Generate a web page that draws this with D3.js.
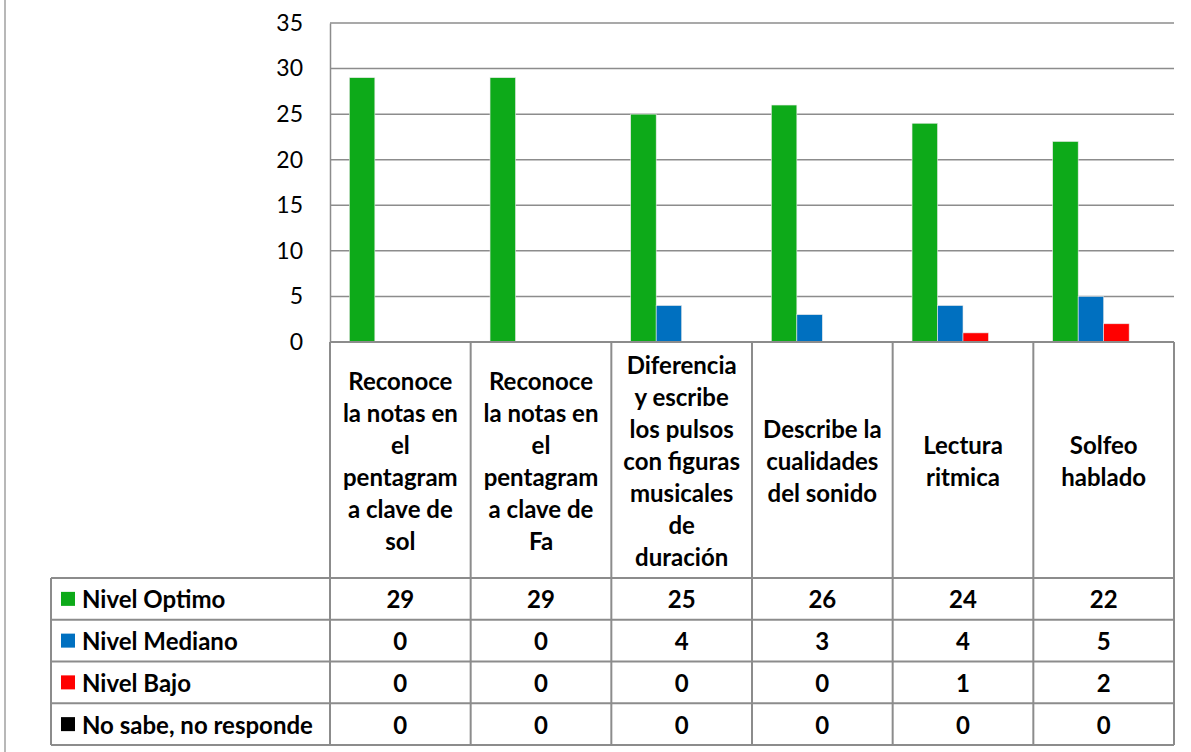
<!DOCTYPE html>
<html>
<head>
<meta charset="utf-8">
<script src="https://cdn.jsdelivr.net/npm/d3@7"></script>
<style>
  body { margin: 0; background: #fff; }
  svg { display: block; font-family: Lato, "Open Sans", sans-serif; }
</style>
</head>
<body>
<div id="chart"></div>
<script>
// categories, one array of lines per column label
var categories = [
  ["Reconoce", "la notas en", "el", "pentagram", "a clave de", "sol"],
  ["Reconoce", "la notas en", "el", "pentagram", "a clave de", "Fa"],
  ["Diferencia", "y escribe", "los pulsos", "con figuras", "musicales", "de", "duración"],
  ["Describe la", "cualidades", "del sonido"],
  ["Lectura", "ritmica"],
  ["Solfeo", "hablado"]
];
var seriesNames = ["Nivel Optimo", "Nivel Mediano", "Nivel Bajo", "No sabe, no responde"];
var seriesColors = ["#0DAA19", "#0070C0", "#FF0000", "#000000"];
var optimo = [29, 29, 25, 26, 24, 22];
var mediano = [0, 0, 4, 3, 4, 5];
var bajo = [0, 0, 0, 0, 1, 2];
var noSabe = [0, 0, 0, 0, 0, 0];
var yTicks = [0, 5, 10, 15, 20, 25, 30, 35];

var series = [optimo, mediano, bajo, noSabe];

var width = 1191, height = 752;
var plotLeft = 330, plotRight = 1174, plotTop = 23, zeroY = 342;
var labelBottom = 578, tableBottom = 745, tableLeft = 51;
var gridColor = "#8C8C8C";
var fontSize = 24;

var svg = d3.select("#chart").append("svg")
  .attr("width", width)
  .attr("height", height);

// outer chart frame (only left side is visible)
svg.append("line")
  .attr("x1", 5).attr("x2", 5).attr("y1", 0).attr("y2", height)
  .attr("stroke", "#A0A0A0").attr("stroke-width", 1.5);

var x = d3.scaleBand()
  .domain(d3.range(categories.length))
  .range([plotLeft, plotRight]);

var y = d3.scaleLinear()
  .domain([0, 35])
  .range([zeroY, plotTop]);

// inner band for the 4 series inside each category (gap ~150%)
var xs = d3.scaleBand()
  .domain(d3.range(series.length))
  .range([0, x.bandwidth()])
  .paddingOuter(0.76)
  .paddingInner(0);

// gridlines
svg.append("g").selectAll("line")
  .data(yTicks)
  .enter().append("line")
  .attr("x1", plotLeft).attr("x2", plotRight)
  .attr("y1", function(d) { return y(d); })
  .attr("y2", function(d) { return y(d); })
  .attr("stroke", gridColor).attr("stroke-width", 1.5);

// y axis labels
var yAxis = d3.axisLeft(y).tickValues(yTicks).tickSize(0).tickPadding(27);
var yg = svg.append("g").attr("transform", "translate(" + plotLeft + ",0)").call(yAxis);
yg.select(".domain").attr("stroke", gridColor).attr("stroke-width", 1.5);
yg.selectAll("text")
  .attr("font-family", "Lato, sans-serif")
  .attr("font-size", 23)
  .attr("fill", "#000");

// bars
series.forEach(function(vals, si) {
  svg.append("g").selectAll("rect")
    .data(vals)
    .enter().append("rect")
    .attr("x", function(d, i) { return x(i) + xs(si); })
    .attr("y", function(d) { return y(d); })
    .attr("width", xs.bandwidth())
    .attr("height", function(d) { return zeroY - y(d); })
    .attr("fill", seriesColors[si])
    .attr("stroke", "#E8E8E8")
    .attr("stroke-width", 0.6);
});

// data table
var rowY = d3.scaleBand()
  .domain(d3.range(series.length))
  .range([labelBottom, tableBottom]);

var table = svg.append("g");

// horizontal lines
table.append("line")
  .attr("x1", plotLeft).attr("x2", plotRight).attr("y1", zeroY).attr("y2", zeroY)
  .attr("stroke", gridColor).attr("stroke-width", 2);
d3.range(series.length + 1).forEach(function(r) {
  var yy = r < series.length ? rowY(r) : tableBottom;
  table.append("line")
    .attr("x1", tableLeft).attr("x2", plotRight).attr("y1", yy).attr("y2", yy)
    .attr("stroke", gridColor).attr("stroke-width", 2);
});

// vertical lines
table.selectAll("line.v")
  .data(d3.range(categories.length + 1))
  .enter().append("line")
  .attr("class", "v")
  .attr("x1", function(d) { return d < categories.length ? x(d) : plotRight; })
  .attr("x2", function(d) { return d < categories.length ? x(d) : plotRight; })
  .attr("y1", zeroY).attr("y2", tableBottom)
  .attr("stroke", gridColor).attr("stroke-width", 2);
table.append("line")
  .attr("x1", tableLeft).attr("x2", tableLeft).attr("y1", labelBottom).attr("y2", tableBottom)
  .attr("stroke", gridColor).attr("stroke-width", 2);

// category labels
var lineH = 32;
categories.forEach(function(lines, i) {
  var cy = (zeroY + labelBottom) / 2 - (lines.length - 1) * lineH / 2;
  var t = table.append("text")
    .attr("x", x(i) + x.bandwidth() / 2)
    .attr("y", cy)
    .attr("text-anchor", "middle")
    .attr("dominant-baseline", "central")
    .attr("font-size", fontSize)
    .attr("font-weight", "bold")
    .attr("fill", "#000");
  lines.forEach(function(l, j) {
    t.append("tspan")
      .attr("x", x(i) + x.bandwidth() / 2)
      .attr("y", cy + j * lineH)
      .text(l);
  });
});

// legend keys + series names + values
series.forEach(function(vals, si) {
  var ry = rowY(si) + rowY.bandwidth() / 2;
  table.append("rect")
    .attr("x", 61).attr("y", ry - 7)
    .attr("width", 14).attr("height", 14)
    .attr("fill", seriesColors[si]);
  table.append("text")
    .attr("x", 82).attr("y", ry)
    .attr("dominant-baseline", "central")
    .attr("font-size", fontSize)
    .attr("font-weight", "bold")
    .text(seriesNames[si]);
  table.selectAll(null)
    .data(vals)
    .enter().append("text")
    .attr("x", function(d, i) { return x(i) + x.bandwidth() / 2; })
    .attr("y", ry)
    .attr("text-anchor", "middle")
    .attr("dominant-baseline", "central")
    .attr("font-size", fontSize)
    .attr("font-weight", "bold")
    .text(function(d) { return d; });
});
</script>
</body>
</html>
